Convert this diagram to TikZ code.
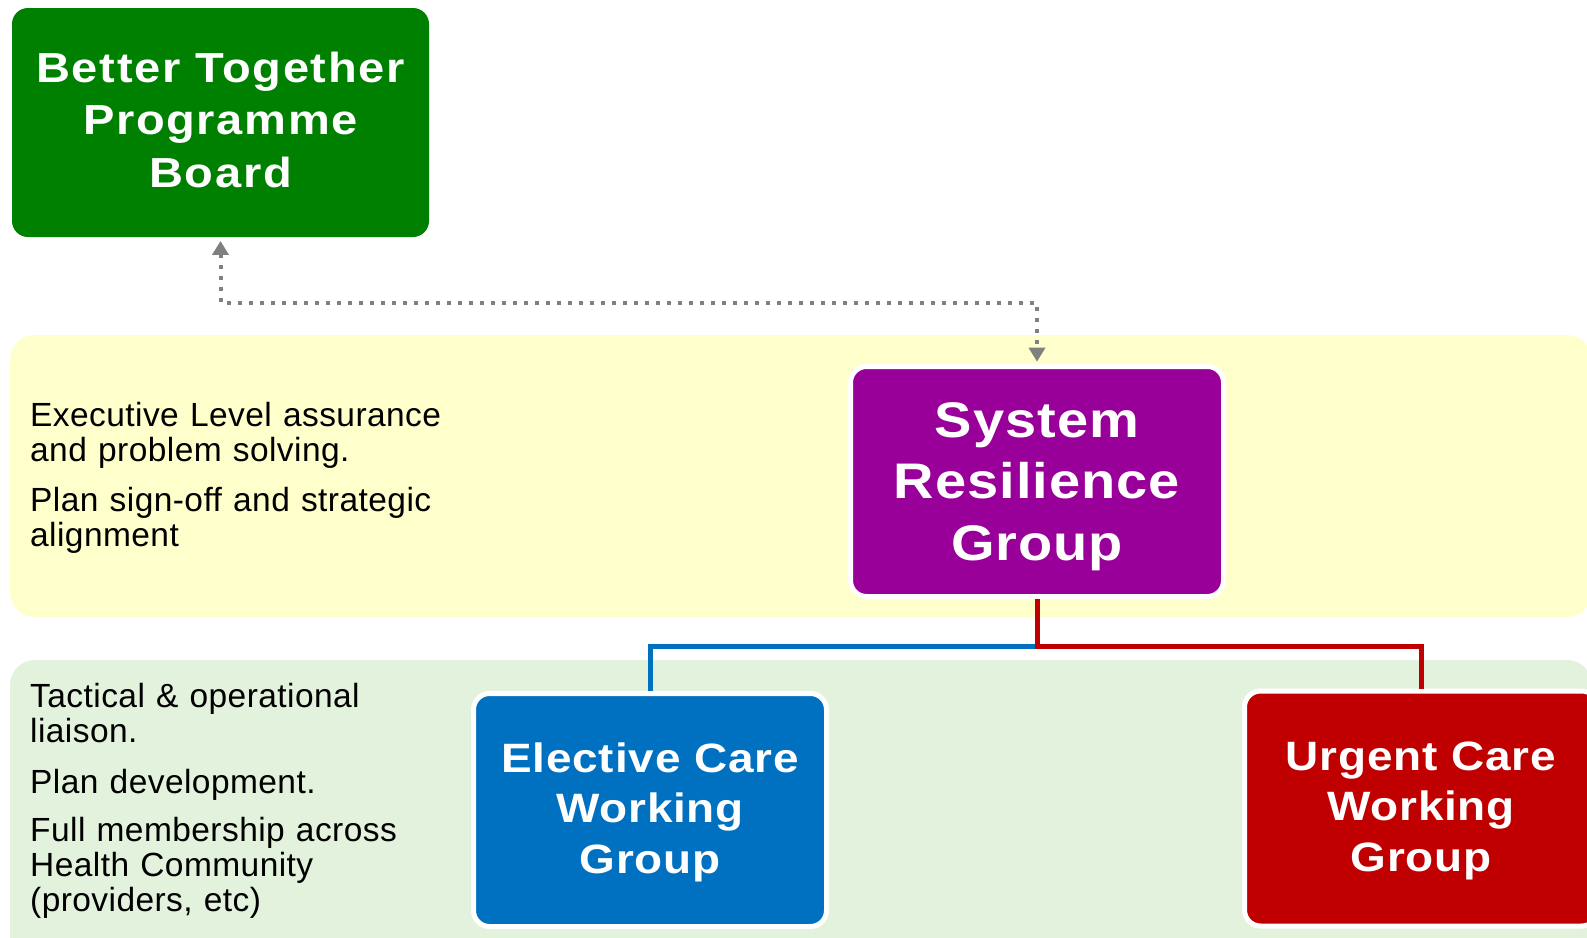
\documentclass[tikz,border=0pt]{standalone}
\usepackage{fontspec}
\setmainfont{Liberation Sans}
\newfontfamily\boxfont[FakeStretch=1.12,LetterSpace=2]{Liberation Sans}
\newfontfamily\boardfont[FakeStretch=1.12,LetterSpace=4]{Liberation Sans}
\newfontfamily\bodyfont[LetterSpace=1.3]{Liberation Sans}
\usetikzlibrary{arrows.meta}
\definecolor{boardgreen}{HTML}{008000}
\definecolor{srgpurple}{HTML}{990099}
\definecolor{ecblue}{HTML}{0070C0}
\definecolor{ucred}{HTML}{C00000}
\definecolor{bandyellow}{HTML}{FFFFCC}
\definecolor{bandgreen}{HTML}{E3F2DD}
\definecolor{arrowgray}{HTML}{808080}
\tikzset{
  box/.style={rounded corners=16pt, inner sep=0pt, align=center, text=white, text depth=0pt},
  wbox/.style={box, draw=white, line width=5pt},
  titlefont/.style={font=\boardfont\bfseries\fontsize{42}{52.5}\selectfont, text depth=6pt},
  srgfont/.style={font=\boxfont\bfseries\fontsize{50}{61.7}\selectfont, text depth=0pt},
  wgfont/.style={font=\boxfont\bfseries\fontsize{41}{50.6}\selectfont, text depth=4pt},
  lefttext/.style={anchor=base west, inner sep=0pt, text width=440pt, align=left,
    font=\bodyfont\fontsize{33.5}{35}\selectfont},
  band/.style={rounded corners=25pt},
  dotarrow/.style={draw=arrowgray, line width=4pt, dash pattern=on 4pt off 7pt,
    {Triangle[width=16pt,length=14pt]}-{Triangle[width=16pt,length=14pt]}},
  conn/.style={line width=5pt},
}
\begin{document}
\begin{tikzpicture}[x=1pt,y=-1pt]
\useasboundingbox (0,0) rectangle (1587,937);
\clip (0,0) rectangle (1587,937);
% bands
\fill[band, bandyellow] (10,335) rectangle (1592,617);
\fill[band, bandgreen] (10,660) rectangle (1592,990);
% boxes
\node[box, fill=boardgreen, minimum width=417pt, minimum height=229pt, titlefont] (board) at (220.5,122.5) {Better Together\\Programme\\Board};
\node[wbox, fill=srgpurple, minimum width=373pt, minimum height=230pt, srgfont] (srg) at (1037,481.5) {System\\Resilience\\Group};
\node[wbox, fill=ecblue, minimum width=353pt, minimum height=233pt, wgfont] (ecwg) at (650,810) {Elective Care\\Working\\Group};
\node[wbox, fill=ucred, minimum width=353pt, minimum height=235pt, wgfont] (ucwg) at (1421,808.5) {Urgent Care\\Working\\Group};
% coordinates for connector routing
\coordinate (top) at (0,303);
\coordinate (split) at (0,646);
% connectors
\draw[dotarrow] ([yshift=-3.7pt]board.south) -- (board.south |- top) -| ([yshift=2.3pt]srg.north);
\draw[conn, ecblue] (srg.south) -- (srg.south |- split) -| (ecwg.north);
\draw[conn, ucred] (srg.south) -- (srg.south |- split) -| (ucwg.north);
% left texts
\node[lefttext] (p1) at (30,426.7) {Executive Level assurance\\and problem solving.};
\node[lefttext] (p2) at (30,511.7) {Plan sign-off and strategic\\alignment};
\node[lefttext] (p3) at (30,707.7) {Tactical \& operational\\liaison.};
\node[lefttext] (p4) at (30,793.3) {Plan development.};
\node[lefttext] (p5) at (30,841.7) {Full membership across\\Health Community\\(providers, etc)};
\end{tikzpicture}
\end{document}
